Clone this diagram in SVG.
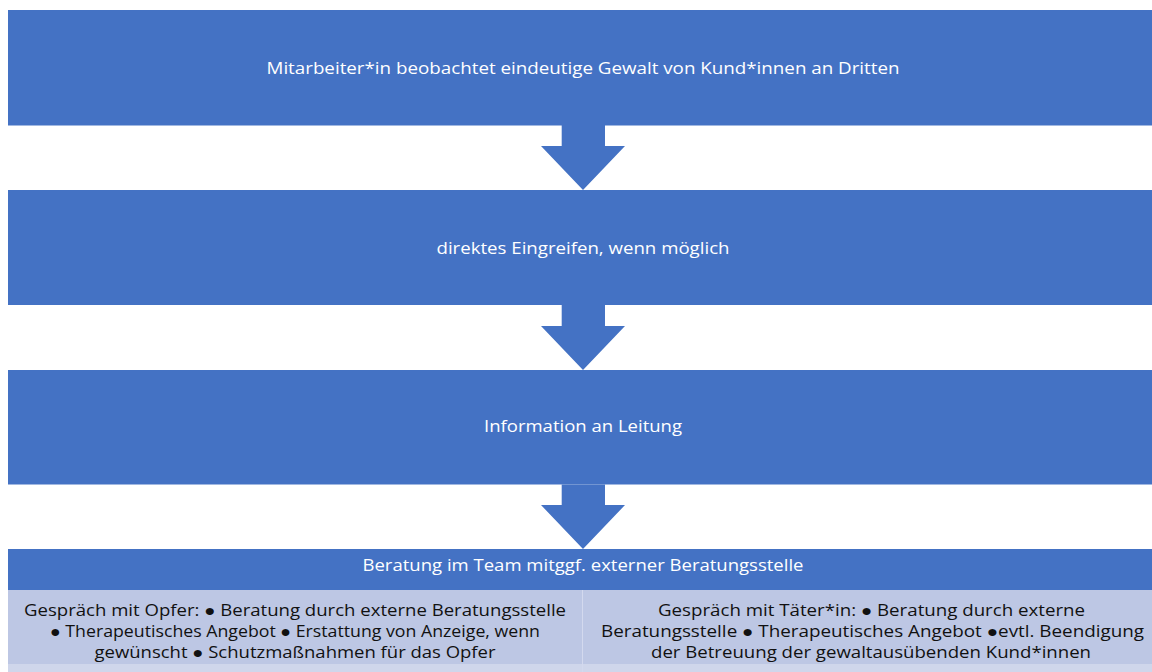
<svg xmlns="http://www.w3.org/2000/svg" width="1152" height="672" viewBox="0 0 1152 672">
<style>
.blue{fill:#4472C4}
.cell{fill:#BDC7E4}
.band{fill:#CFD6EB}
.t{font-family:"Open Sans","Liberation Sans",sans-serif;fill:#FFFFFF;font-size:16px;text-anchor:middle}
.c{font-family:"Open Sans","Liberation Sans",sans-serif;fill:#111111;font-size:16px;text-anchor:middle}
</style>
<rect width="1152" height="672" fill="#FFFFFF"/>
<g id="node1">
<rect class="blue" x="8" y="10" width="1144" height="115.5"/>
<text class="t" x="583" y="74" textLength="633" lengthAdjust="spacingAndGlyphs">Mitarbeiter*in beobachtet eindeutige Gewalt von Kund*innen an Dritten</text>
</g>
<g id="node2">
<rect class="blue" x="8" y="190" width="1144" height="115"/>
<text class="t" x="583" y="254" textLength="293" lengthAdjust="spacingAndGlyphs">direktes Eingreifen, wenn möglich</text>
</g>
<g id="node3">
<rect class="blue" x="8" y="370" width="1144" height="114.5"/>
<text class="t" x="583" y="432" textLength="198" lengthAdjust="spacingAndGlyphs">Information an Leitung</text>
</g>
<g id="connectors">
<polygon class="blue" points="561.7,125 605,125 605,146 625,146 583,190 541,146 561.7,146"/>
<polygon class="blue" points="561.7,305 605,305 605,326 625,326 583,370 541,326 561.7,326"/>
<polygon class="blue" points="561.7,484.5 605,484.5 605,505 625,505 583,549 541,505 561.7,505"/>
</g>
<g id="node4">
<rect class="blue" x="8" y="549" width="1144" height="41"/>
<text class="t" x="583" y="571" textLength="441" lengthAdjust="spacingAndGlyphs">Beratung im Team mitggf. externer Beratungsstelle</text>
</g>
<g id="node5">
<rect class="cell" x="8" y="590" width="574" height="82"/>
<rect class="band" x="8" y="664" width="574" height="8"/>
<text class="c" x="295" y="616" textLength="542" lengthAdjust="spacingAndGlyphs">Gespräch mit Opfer: ● Beratung durch externe Beratungsstelle</text>
<text class="c" x="295" y="637" textLength="490" lengthAdjust="spacingAndGlyphs">● Therapeutisches Angebot ● Erstattung von Anzeige, wenn</text>
<text class="c" x="295" y="658" textLength="401" lengthAdjust="spacingAndGlyphs">gewünscht ● Schutzmaßnahmen für das Opfer</text>
</g>
<g id="node6">
<rect class="cell" x="583" y="590" width="569" height="82"/>
<rect class="band" x="583" y="664" width="569" height="8"/>
<rect x="582" y="590" width="1" height="82" fill="#D3D9EE"/>
<text class="c" x="871.5" y="616" textLength="427" lengthAdjust="spacingAndGlyphs">Gespräch mit Täter*in: ● Beratung durch externe</text>
<text class="c" x="872.5" y="637" textLength="543" lengthAdjust="spacingAndGlyphs">Beratungsstelle ● Therapeutisches Angebot ●evtl. Beendigung</text>
<text class="c" x="871" y="658" textLength="440" lengthAdjust="spacingAndGlyphs">der Betreuung der gewaltausübenden Kund*innen</text>
</g>
</svg>
